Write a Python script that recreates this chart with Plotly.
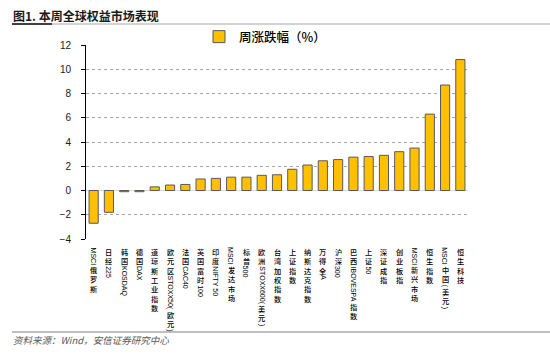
import plotly.graph_objects as go

categories = ["MSCI俄罗斯", "日经225", "韩国KOSDAQ", "德国DAX", "道琼斯工业指数",
              "欧元区STOXX50(欧元)", "法国CAC40", "英国富时100", "印度NIFTY 50",
              "MSCI发达市场", "标普500", "欧洲STOXX600(美元)", "台湾加权指数",
              "上证指数", "纳斯达克指数", "万得全A", "沪深300", "巴西IBOVESPA指数",
              "上证50", "深证成指", "创业板指", "MSCI新兴市场", "恒生指数",
              "MSCI中国(美元)", "恒生科技"]
weekly_change = [-2.7, -1.8, -0.1, -0.1, 0.3, 0.45, 0.5, 0.95, 1.0, 1.1, 1.1, 1.25,
                 1.3, 1.75, 2.1, 2.45, 2.55, 2.75, 2.8, 2.9, 3.2, 3.5, 6.3, 8.7, 10.8]
series_name = "周涨跌幅（%）"
y_ticks = [-4, -2, 0, 2, 4, 6, 8, 10, 12]
title_text = "图1. 本周全球权益市场表现"
source_text = "资料来源：Wind，安信证券研究中心"

CJK_FONT = "Noto Sans CJK SC"
CJK_FS = 7.2
LINE_H = 1.3
LAT_FS = 7
LABEL_GAP = 8

# figure geometry (pixels)
FIG_W, FIG_H = 550, 354
M_L, M_R, M_T, M_B = 86, 82, 45, 115
PW = FIG_W - M_L - M_R
PH = FIG_H - M_T - M_B

W = {"M": .833, "S": .667, "C": .722, "I": .278, "K": .667, "O": .778, "D": .722,
     "A": .667, "Q": .778, "X": .667, "T": .611, "N": .722, "F": .611, "Y": .667,
     "B": .667, "V": .667, "E": .667, "P": .667, " ": .278, "(": .333, ")": .333}


def split_runs(label):
    out, cur_kind, cur = [], None, []
    for ch in label:
        kind = "cjk" if ord(ch) > 0x2E80 else "lat"
        if kind != cur_kind and cur:
            out.append((cur_kind, cur))
            cur = []
        cur_kind = kind
        cur.append(ch)
    if cur:
        out.append((cur_kind, cur))
    return out


def px_x(p):
    return (p - M_L) / PW


def px_y(p):
    return (FIG_H - M_B - p) / PH


fig = go.Figure()
fig.add_trace(go.Bar(
    x=categories, y=weekly_change, name=series_name,
    marker=dict(color="#FFC000", line=dict(color="#595959", width=1)),
    width=0.6, showlegend=True,
))

annotations = []
for cat in categories:
    off = LABEL_GAP
    for kind, chars in split_runs(cat):
        if kind == "cjk":
            ln = len(chars) * CJK_FS * LINE_H
            annotations.append(dict(
                x=cat, xref="x", y=0, yref="paper", yanchor="middle", xanchor="center",
                yshift=-(off + ln / 2), text="<br>".join(chars), showarrow=False,
                align="center",
                font=dict(family=CJK_FONT, size=CJK_FS, color="#000000", weight=500),
                borderpad=0, borderwidth=0))
        else:
            txt = "".join(chars)
            ln = sum(W.get(c, .556) for c in txt) * LAT_FS + 1
            annotations.append(dict(
                x=cat, xref="x", y=0, yref="paper", yanchor="middle", xanchor="center",
                yshift=-(off + ln / 2), text=txt, showarrow=False, textangle=90,
                font=dict(family="Liberation Sans", size=LAT_FS, color="#000000"),
                borderpad=0, borderwidth=0))
        off += ln

annotations.append(dict(x=px_x(11), xref="paper", y=px_y(15), yref="paper",
                        yanchor="middle", xanchor="left",
                        text="<b>" + title_text + "</b>", showarrow=False,
                        font=dict(family=CJK_FONT, size=12, color="#1a1a1a")))
annotations.append(dict(x=px_x(11), xref="paper", y=px_y(340), yref="paper",
                        yanchor="middle", xanchor="left",
                        text="<i>" + source_text + "</i>", showarrow=False,
                        font=dict(family=CJK_FONT, size=9.5, color="#595959")))

fig.update_layout(
    width=FIG_W, height=FIG_H,
    margin=dict(l=M_L, r=M_R, t=M_T, b=M_B),
    paper_bgcolor="white", plot_bgcolor="white",
    showlegend=True,
    legend=dict(orientation="h", x=px_x(199), xanchor="left", y=px_y(37),
                yanchor="middle",
                font=dict(family=CJK_FONT, size=12.5, color="#000000", weight=500),
                itemwidth=30, bgcolor="rgba(0,0,0,0)"),
    font=dict(family="Liberation Sans", size=10, color="#1a1a1a"),
    annotations=annotations,
    shapes=[
        dict(type="line", xref="paper", yref="paper", x0=px_x(12), x1=px_x(550),
             y0=px_y(24), y1=px_y(24), line=dict(color="#a6a6a6", width=1)),
        dict(type="line", xref="paper", yref="paper", x0=px_x(12), x1=px_x(52),
             y0=px_y(24), y1=px_y(24), line=dict(color="#404040", width=2)),
        dict(type="line", xref="paper", yref="paper", x0=px_x(12), x1=px_x(550),
             y0=px_y(332), y1=px_y(332), line=dict(color="#808080", width=1)),
    ],
)
fig.update_xaxes(type="category", showticklabels=False, showgrid=False, ticks="",
                 showline=False, zeroline=False, range=[-0.5, len(categories) - 0.5])
fig.update_yaxes(range=[-4, 12], tickvals=y_ticks, showgrid=True, gridcolor="#a6a6a6",
                 griddash="dot", gridwidth=1, zeroline=True, zerolinecolor="#d9d9d9",
                 zerolinewidth=1, showline=True, linecolor="#000000", linewidth=1,
                 ticks="outside", ticklen=4, tickcolor="#000000", ticklabelstandoff=8,
                 tickfont=dict(family="Liberation Sans", size=10, color="#1a1a1a"))

fig.write_html("out.html")
